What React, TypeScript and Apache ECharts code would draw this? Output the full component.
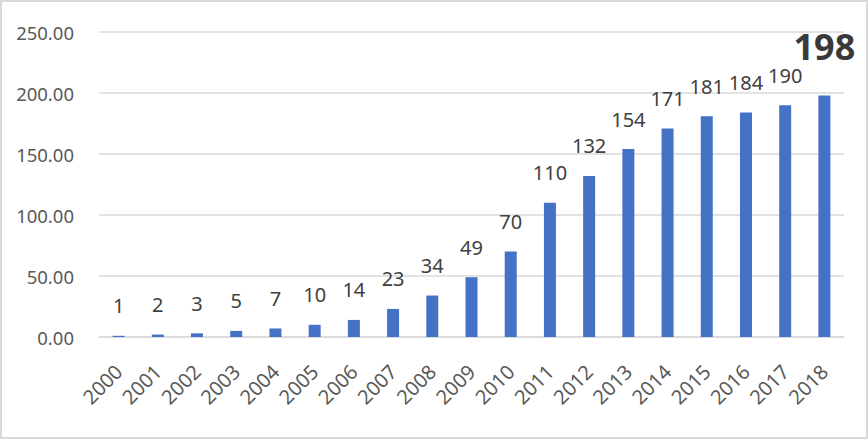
import React, { useEffect, useRef } from "react";
import * as echarts from "echarts";

const years = ["2000","2001","2002","2003","2004","2005","2006","2007","2008","2009","2010","2011","2012","2013","2014","2015","2016","2017","2018"];
const values = [1, 2, 3, 5, 7, 10, 14, 23, 34, 49, 70, 110, 132, 154, 171, 181, 184, 190, 198];
const yMin = 0;
const yMax = 250;
const yInterval = 50;

const FONT = "'Noto Sans', 'Open Sans', sans-serif";

export default function App() {
  const ref = useRef<HTMLDivElement>(null);
  useEffect(() => {
    if (!ref.current) return;
    const chart = echarts.init(ref.current, undefined, { renderer: "svg" });
    const last = values.length - 1;
    chart.setOption({
      animation: false,
      textStyle: { fontFamily: FONT },
      grid: { left: 99, right: 24, top: 32, bottom: 102 },
      xAxis: {
        type: "category",
        data: years,
        axisLine: { show: true, lineStyle: { color: "#d9d9d9", width: 1.5 } },
        axisTick: { show: false },
        axisLabel: { rotate: 45, margin: 31, fontSize: 20, color: "#595959", fontFamily: FONT, interval: 0 },
      },
      yAxis: {
        type: "value",
        min: yMin,
        max: yMax,
        interval: yInterval,
        axisLine: { show: false },
        axisTick: { show: false },
        splitLine: { lineStyle: { color: "#d9d9d9", width: 1.5 } },
        axisLabel: { margin: 25, fontSize: 18.5, color: "#595959", fontFamily: FONT, formatter: (v: number) => v.toFixed(2) },
      },
      series: [
        {
          type: "bar",
          barWidth: 12,
          itemStyle: { color: "#4472C4" },
          label: { show: true, position: "top", distance: 20, fontSize: 20, color: "#404040", fontFamily: FONT },
          data: values.map((v, i) =>
            i === last
              ? { value: v, label: { fontSize: 36, fontWeight: "bold", distance: 31, color: "#3a3a3a" } }
              : v
          ),
        },
      ],
    });
    return () => chart.dispose();
  }, []);
  return (
    <div
      style={{
        position: "fixed",
        left: 0,
        top: 0,
        width: 868,
        height: 439,
        boxSizing: "border-box",
        border: "2px solid #d9d9d9",
        background: "#fff",
      }}
    >
      <div ref={ref} style={{ position: "absolute", left: -2, top: -2, width: 868, height: 439 }} />
    </div>
  );
}
